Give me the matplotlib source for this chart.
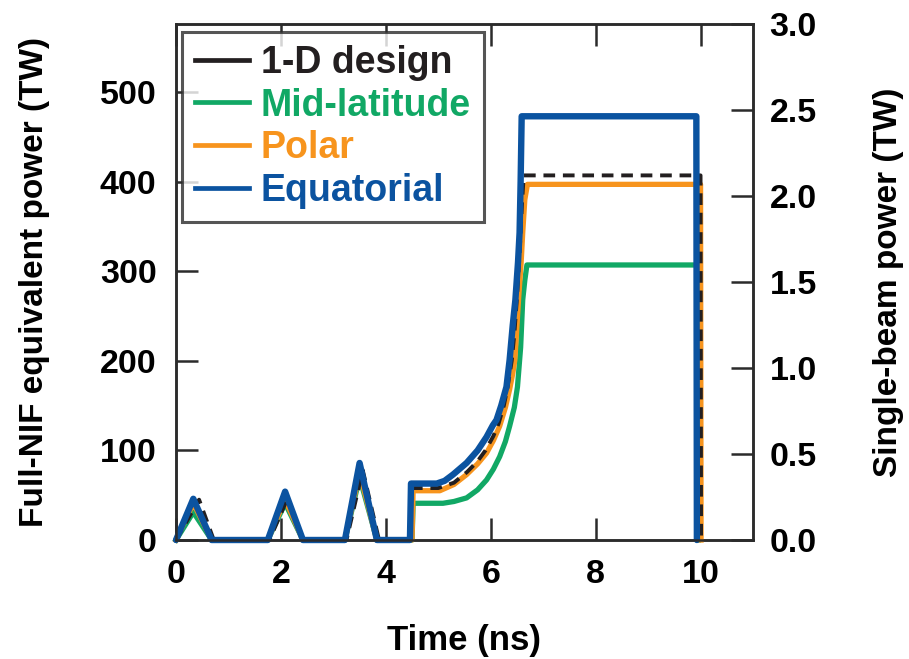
import matplotlib
matplotlib.use("Agg")
import matplotlib.pyplot as plt
from matplotlib.lines import Line2D

# ---------------- data (full-NIF equivalent power, TW) ----------------
t_design = [0, 0.44, 0.72, 1.78, 2.13, 2.42, 3.25, 3.56, 3.87, 4.47, 4.49, 5.0, 5.3, 5.55, 5.75, 5.9, 6.05, 6.15, 6.25, 6.32, 6.4, 6.45, 6.5, 6.55, 6.6, 6.63, 10.0, 10.01]
p_design = [0, 45, 0, 0, 47, 0, 0, 78, 0, 0, 58, 58, 64, 76, 88, 100, 116, 130, 150, 170, 200, 230, 270, 320, 380, 407, 407, 0]

t_mid = [0, 0.33, 0.68, 1.75, 2.08, 2.42, 3.22, 3.5, 3.83, 4.5, 4.52, 5.09, 5.3, 5.54, 5.75, 5.92, 6.05, 6.17, 6.28, 6.36, 6.45, 6.51, 6.57, 6.61, 6.65, 6.69, 9.95, 9.96]
p_mid = [0, 31, 0, 0, 41, 0, 0, 70, 0, 0, 41, 41, 43, 47, 56, 67, 79, 93, 110, 127, 148, 171, 215, 268, 290, 307, 307, 0]

t_polar = [0, 0.33, 0.68, 1.75, 2.08, 2.42, 3.22, 3.5, 3.83, 4.5, 4.52, 5.03, 5.3, 5.54, 5.75, 5.92, 6.05, 6.17, 6.28, 6.36, 6.42, 6.46, 6.53, 6.58, 6.61, 6.65, 6.70, 10.0, 10.01]
p_polar = [0, 41, 0, 0, 45, 0, 0, 75, 0, 0, 55, 55, 62, 73, 85, 97, 111, 127, 148, 168, 186, 201, 268, 310, 343, 380, 397, 397, 0]

t_equ = [0, 0.33, 0.68, 1.75, 2.08, 2.42, 3.22, 3.5, 3.83, 4.46, 4.48, 4.97, 5.12, 5.28, 5.54, 5.75, 5.92, 6.04, 6.11, 6.2, 6.3, 6.36, 6.42, 6.47, 6.52, 6.55, 6.57, 6.59, 9.92, 9.93]
p_equ = [0, 46, 0, 0, 54, 0, 0, 86, 0, 0, 63, 63, 66, 73, 86, 100, 115, 128, 134, 150, 171, 201, 240, 268, 310, 343, 400, 473, 473, 0]

series_labels = ["1-D design", "Mid-latitude", "Polar", "Equatorial"]
x_ticks = [0, 2, 4, 6, 8, 10]
y_ticks = [0, 100, 200, 300, 400, 500]
y2_ticks = [0.0, 0.5, 1.0, 1.5, 2.0, 2.5, 3.0]
n_beams = 192

# ---------------- style ----------------
plt.rcParams['font.family'] = ['Liberation Sans', 'DejaVu Sans']
plt.rcParams['font.weight'] = 'bold'

c_black = '#231f20'
c_green = '#11a865'
c_orange = '#f7941d'
c_blue = '#0b53a0'
spine_c = '#2b2b2b'

fig = plt.figure(figsize=(9.09, 6.59), dpi=100)
ax = fig.add_axes([176/909, 1-540/659, 577/909, 516/659])

ax.plot(t_mid, p_mid, color=c_green, lw=3.8, clip_on=False, zorder=3, solid_joinstyle='round')
ax.plot(t_polar, p_polar, color=c_orange, lw=3.8, clip_on=False, zorder=4, solid_joinstyle='round')
ax.plot(t_design, p_design, color=c_black, lw=2.8, ls=(0, (3.0, 2.0)), clip_on=False, zorder=5)
ax.plot(t_equ, p_equ, color=c_blue, lw=4.6, clip_on=False, zorder=6, solid_joinstyle='round', solid_capstyle='round')

ax.set_xlim(0, 11)
ax.set_ylim(0, 3.0 * n_beams)
ax.set_xticks(x_ticks)
ax.set_yticks(y_ticks)
ax.tick_params(axis='both', direction='in', length=16, width=1.8, color=spine_c, labelsize=24.5)
ax.tick_params(axis='x', top=True, pad=14)
ax.tick_params(axis='y', pad=14)
for s in ax.spines.values():
    s.set_linewidth(1.8)
    s.set_color(spine_c)
for lab in ax.get_xticklabels() + ax.get_yticklabels():
    lab.set_fontweight('bold')

ax.set_xlabel("Time (ns)", fontsize=25, fontweight='bold', labelpad=24)
ax.set_ylabel("Full-NIF equivalent power (TW)", fontsize=24, fontweight='bold', labelpad=36)

ax2 = ax.twinx()
ax2.set_ylim(0, 3.0)
ax2.set_yticks(y2_ticks)
ax2.set_yticklabels([f"{v:.1f}" for v in y2_ticks])
ax2.tick_params(axis='y', direction='in', length=16, width=1.8, color=spine_c, labelsize=24.5, pad=12)
for lab in ax2.get_yticklabels():
    lab.set_fontweight('bold')
for s in ax2.spines.values():
    s.set_linewidth(1.8)
    s.set_color(spine_c)
ax2.set_ylabel("Single-beam power (TW)", fontsize=24, fontweight='bold', labelpad=40)

handles = [Line2D([], [], color=c, lw=3.4) for c in [c_black, c_green, c_orange, c_blue]]
leg = ax.legend(handles, series_labels, loc='upper left', bbox_to_anchor=(0.01, 0.985),
                fontsize=27, frameon=True, fancybox=False, handlelength=1.45,
                handletextpad=0.3, labelspacing=0.18, borderpad=0.35, borderaxespad=0.0)
leg.get_frame().set_edgecolor(spine_c)
leg.get_frame().set_linewidth(2.2)
for txt, c in zip(leg.get_texts(), [c_black, c_green, c_orange, c_blue]):
    txt.set_color(c)
    txt.set_fontweight('bold')
leg.set_zorder(10)

fig.savefig("out.png", dpi=100)
